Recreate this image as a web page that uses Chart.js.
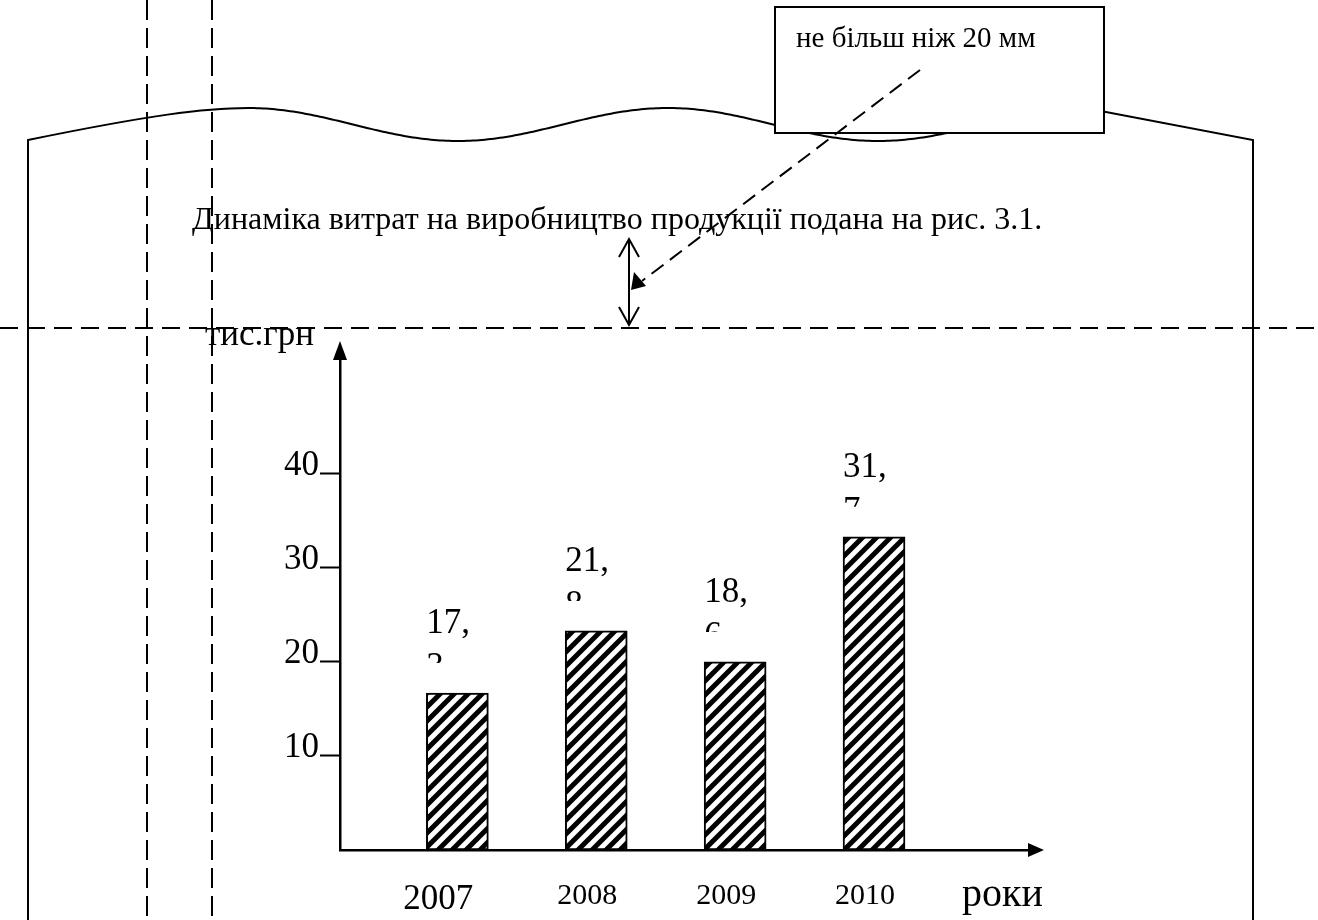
<!DOCTYPE html>
<html lang="uk">
<head>
<meta charset="UTF-8">
<title>Динаміка витрат</title>
<script src="https://cdn.jsdelivr.net/npm/chart.js@4.4.0/dist/chart.umd.min.js"></script>
<style>
  body { margin: 0; background: #fff; }
  #wrap { width: 1318px; height: 920px; }
</style>
</head>
<body>
<div id="wrap"><canvas id="myChart"></canvas></div>
<script>
// data
var years = ['2007', '2008', '2009', '2010'];
var costs = [16.7, 23.3, 20.0, 33.3];              // bar heights as drawn
var costLabels = ['17,3', '21,8', '18,6', '31,7'];  // numbers written above the bars
var yTickValues = [10, 20, 30, 40];
var yTitle = 'тис.грн';
var xTitle = 'роки';
var caption = 'Динаміка витрат на виробництво продукції подана на рис. 3.1.';
var note = 'не більш ніж 20 мм';

var serif = "'Liberation Serif', 'Times New Roman', serif";

var ctx = document.getElementById('myChart').getContext('2d');

// diagonal hatch for the bars
var tile = document.createElement('canvas');
tile.width = tile.height = 14;
var t = tile.getContext('2d');
t.fillStyle = '#fff';
t.fillRect(0, 0, 14, 14);
t.strokeStyle = '#000';
t.lineWidth = 5;
t.beginPath();
t.moveTo(-2, 16); t.lineTo(16, -2);
t.moveTo(-3, 3); t.lineTo(3, -3);
t.moveTo(11, 17); t.lineTo(17, 11);
t.stroke();
var hatch = ctx.createPattern(tile, 'repeat');

function dashLine(c, x1, y1, x2, y2, dash) {
    c.save();
    c.setLineDash(dash);
    c.lineWidth = 2;
    c.beginPath();
    c.moveTo(x1, y1);
    c.lineTo(x2, y2);
    c.stroke();
    c.restore();
}

function openHead(c, x, y, dir) {
    // dir = -1 points up, 1 points down
    c.beginPath();
    c.moveTo(x - 10, y - dir * 18);
    c.lineTo(x, y);
    c.lineTo(x + 10, y - dir * 18);
    c.stroke();
}

var page = {
    id: 'page',
    afterDraw: function (chart) {
        var c = chart.ctx;
        var area = chart.chartArea;
        var xs = chart.scales.x, ys = chart.scales.y;
        c.save();
        c.strokeStyle = '#000';
        c.fillStyle = '#000';

        // sheet outline with the torn (wavy) top edge
        c.lineWidth = 2;
        c.beginPath();
        c.moveTo(28, 920);
        c.lineTo(28, 140);
        c.bezierCurveTo(150, 115, 205, 108, 248, 108);
        for (var x = 248; x <= 1085; x += 3) {
            c.lineTo(x, 124.5 - 16.5 * Math.cos(Math.PI * (x - 248) / 210));
        }
        c.lineTo(1253, 140);
        c.lineTo(1253, 920);
        c.stroke();

        // note box
        c.fillStyle = '#fff';
        c.fillRect(775, 7, 329, 126);
        c.strokeRect(775, 7, 329, 126);
        c.fillStyle = '#000';
        c.font = '29px ' + serif;
        c.textBaseline = 'alphabetic';
        c.textAlign = 'left';
        c.fillText(note, 796, 47);

        // caption text
        c.font = '32px ' + serif;
        c.fillText(caption, 192, 229);

        // guide lines
        dashLine(c, 147, 0, 147, 920, [20, 8]);
        dashLine(c, 212, 0, 212, 920, [20, 8]);
        dashLine(c, 0, 328, 1318, 328, [18, 9]);

        // "not more than 20 mm" arrows
        c.lineWidth = 2;
        c.beginPath();
        c.moveTo(629, 239);
        c.lineTo(629, 325);
        c.stroke();
        openHead(c, 629, 239, -1);
        openHead(c, 629, 325, 1);
        dashLine(c, 920, 70, 642, 281, [15, 8]);
        c.beginPath();
        c.moveTo(631, 290);
        c.lineTo(634, 272);
        c.lineTo(646, 286);
        c.closePath();
        c.fill();

        // axis arrows
        c.beginPath();
        c.moveTo(area.left, area.top - 20);
        c.lineTo(area.left - 7, area.top - 1);
        c.lineTo(area.left + 7, area.top - 1);
        c.closePath();
        c.fill();
        c.beginPath();
        c.moveTo(area.right + 14, area.bottom);
        c.lineTo(area.right - 2, area.bottom - 7);
        c.lineTo(area.right - 2, area.bottom + 7);
        c.closePath();
        c.fill();

        // axis titles
        c.font = '35px ' + serif;
        c.fillText(yTitle, 205, 345);
        c.font = '40px ' + serif;
        c.fillText(xTitle, 962, 906);

        // year labels under the bars
        c.textAlign = 'center';
        years.forEach(function (yr, i) {
            var px = xs.getPixelForValue(i + 1);
            if (i === 0) {
                c.font = '35px ' + serif;
                c.fillText(yr, px - 19, 909);
            } else {
                c.font = '30px ' + serif;
                c.fillText(yr, px - 9, 904);
            }
        });

        // value labels: second line is cut off like in the original text box
        c.textAlign = 'left';
        c.font = '35px ' + serif;
        costLabels.forEach(function (lbl, i) {
            var left = xs.getPixelForValue(i + 1) - 31;
            var top = ys.getPixelForValue(costs[i]);
            var parts = lbl.split(',');
            c.fillText(parts[0] + ',', left, top - 60);
            c.save();
            c.beginPath();
            c.rect(left - 5, top - 58, 80, 28);
            c.clip();
            c.fillText(parts[1], left, top - 16);
            c.restore();
        });
        c.restore();
    }
};

var chart = new Chart(ctx, {
    type: 'bar',
    data: {
        datasets: [{
            data: costs.map(function (v, i) { return { x: i + 1, y: v }; }),
            backgroundColor: hatch,
            borderColor: '#000',
            borderWidth: 2,
            borderSkipped: false,
            barThickness: 62
        }]
    },
    options: {
        responsive: true,
        maintainAspectRatio: false,
        animation: false,
        layout: { padding: { top: 361, right: 288, left: 0, bottom: 0 } },
        plugins: {
            legend: { display: false },
            tooltip: { enabled: false }
        },
        scales: {
            x: {
                type: 'linear',
                offset: false,
                min: 0.155,
                max: 5.123,
                grid: { display: false },
                ticks: { display: false },
                border: { display: true, color: '#000', width: 2.5 },
                afterFit: function (s) { s.height = 70; }
            },
            y: {
                min: 0,
                max: 52,
                ticks: {
                    stepSize: 10,
                    color: '#000',
                    padding: 1,
                    labelOffset: -8,
                    font: { family: serif, size: 35 },
                    callback: function (v) {
                        return yTickValues.indexOf(v) >= 0 ? String(v) : null;
                    }
                },
                grid: {
                    drawOnChartArea: false,
                    drawTicks: true,
                    tickLength: 20,
                    tickColor: '#000',
                    tickWidth: 2,
                    color: '#000'
                },
                border: { display: true, color: '#000', width: 2.5 },
                afterFit: function (s) { s.width = 340; }
            }
        }
    },
    plugins: [page]
});
</script>
</body>
</html>
